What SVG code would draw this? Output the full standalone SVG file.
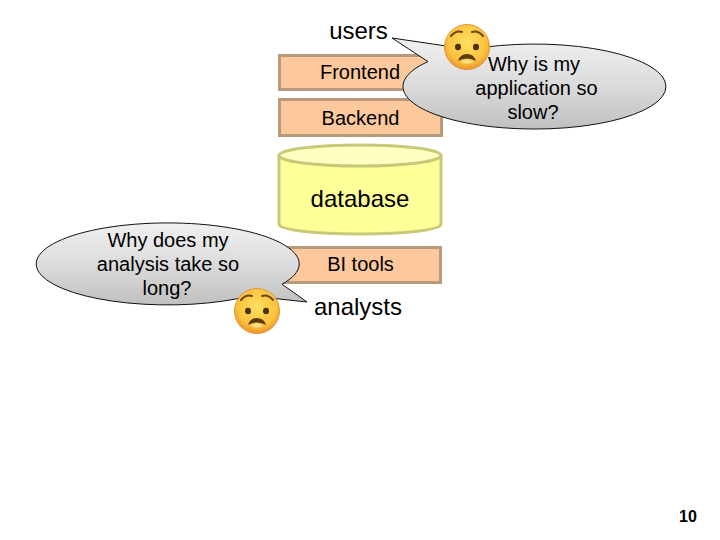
<svg xmlns="http://www.w3.org/2000/svg" width="720" height="540" viewBox="0 0 720 540">
<style>
text{font-family:"Liberation Sans",Arial,sans-serif;fill:#000;text-anchor:middle}
.t18{font-size:20px}
.t24{font-size:24px}
.box{fill:#fcc89c;stroke:#b8997c;stroke-width:3}
.db{fill:#ffff99;stroke:#c8c878;stroke-width:3}
.dbtop{fill:#ffffc2;stroke:#c8c878;stroke-width:3}
.bubble{fill:url(#bub);stroke:#111;stroke-width:1}
.brow{fill:none;stroke:#6b4210;stroke-width:2;stroke-linecap:round}
.eye{fill:#4a3010}
.mouth{fill:#5a3a10}
</style>
<defs>
<linearGradient id="bub" x1="0" y1="0" x2="0" y2="1"><stop offset="0" stop-color="#f0f0f0"/><stop offset="0.5" stop-color="#dcdcdc"/><stop offset="1" stop-color="#c0c0c0"/></linearGradient>
<radialGradient id="face" cx="0.5" cy="0.4" r="0.62"><stop offset="0" stop-color="#ffe060"/><stop offset="0.7" stop-color="#fdc23e"/><stop offset="1" stop-color="#e88e26"/></radialGradient>
<g id="sad">
<circle r="22.5" fill="url(#face)" stroke="#e0963c" stroke-width="1"/>
<path class="brow" d="M-16,-11Q-11,-17 -5,-15"/>
<path class="brow" d="M16,-11Q11,-17 5,-15"/>
<ellipse class="eye" cx="-9" cy="0" rx="3" ry="3.300"/>
<ellipse class="eye" cx="9" cy="0" rx="3" ry="3.300"/>
<path class="mouth" d="M-9,14Q-7,7 0,7Q7,7 9,14Q0,9 -9,14Z"/>
<path d="M-6,15Q0,10 6,15Q0,18 -6,15Z" fill="#fbe08a"/>
</g>
</defs>
<g id="users"><text class="t24" x="358.500" y="39">users</text></g>
<g id="frontend"><rect class="box" x="279.500" y="55.500" width="163" height="34"/><text class="t18" x="360" y="78.500">Frontend</text></g>
<g id="backend"><rect class="box" x="279.500" y="99.500" width="162" height="36"/><text class="t18" x="360.500" y="124.500">Backend</text></g>
<g id="database">
<path class="db" d="M279,155V224C279,230 315,234 360,234S441,230 441,224V155"/>
<ellipse class="dbtop" cx="360" cy="155.500" rx="81" ry="10.500"/>
<text class="t24" x="360" y="207">database</text>
</g>
<g id="bitools"><rect class="box" x="279.500" y="247.500" width="161" height="35"/><text class="t18" x="360.500" y="271">BI tools</text></g>
<g id="analysts"><text class="t24" x="358" y="315">analysts</text></g>
<g id="connectors">
<path class="bubble" d="M392,38L470,49.500A131.500,42.500 0 1 1 428,61.600Z"/>
<path class="bubble" d="M307,302L250,295.900A131.500,41 0 1 1 282,284.200Z"/>
</g>
<g id="bubble-users"><text class="t18" x="534" y="71">Why is my</text><text class="t18" x="536.500" y="95">application so</text><text class="t18" x="533" y="118.500">slow?</text></g>
<g id="bubble-analysts"><text class="t18" x="168" y="246.500">Why does my</text><text class="t18" x="168" y="270.500">analysis take so</text><text class="t18" x="167" y="294.500">long?</text></g>
<use id="emoji-users" href="#sad" x="467" y="47"/>
<use id="emoji-analysts" href="#sad" x="257" y="311"/>
<g id="page"><text x="688" y="522" style="font-size:16px;font-weight:bold">10</text></g>
</svg>
